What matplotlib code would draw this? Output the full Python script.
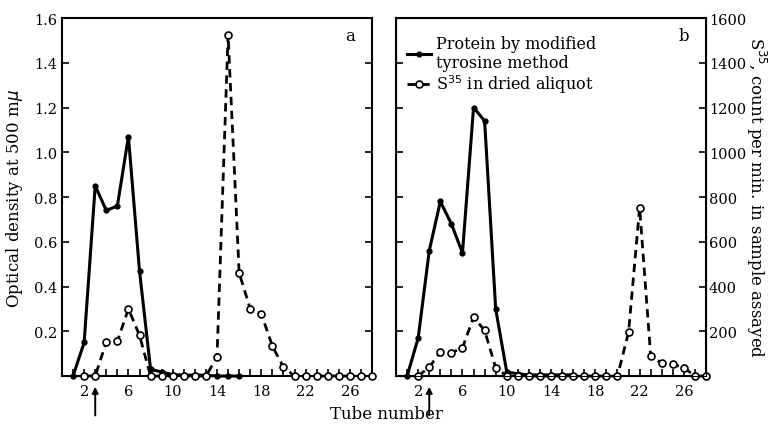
import matplotlib
matplotlib.use("Agg")
import matplotlib.pyplot as plt
import numpy as np

plt.rcParams['font.family'] = ['DejaVu Serif']

# panel a
tubes_prot_a = [1, 2, 3, 4, 5, 6, 7, 8, 9, 10, 11, 12, 13, 14, 15, 16]
prot_a = [0.0, 0.15, 0.85, 0.74, 0.76, 1.07, 0.47, 0.03, 0.018, 0.006, 0.004, 0.004, 0.004, 0.0, 0.0, 0.0]
tubes_s35_a = list(range(2, 29))
s35_a = [0, 0, 152, 155, 300, 182, 0, 0, 0, 0, 0, 0, 85, 1525, 461, 300, 278, 134,
         40, 0, 0, 0, 0, 0, 0, 0, 0]

# panel b
tubes_prot_b = list(range(1, 17))
prot_b = [0.0, 0.17, 0.56, 0.78, 0.68, 0.55, 1.20, 1.14, 0.30, 0.018, 0.01, 0.005,
          0.005, 0.005, 0.005, 0.005]
tubes_s35_b = list(range(2, 29))
s35_b = [0, 40, 107, 104, 126, 263, 204, 37, 0, 0, 0, 0, 0, 0, 0, 0, 0, 0, 0,
         196, 753, 88, 58, 52, 37, 0, 0]

xtick_labels = [2, 6, 10, 14, 18, 22, 26]
y_ticks = [0.2, 0.4, 0.6, 0.8, 1.0, 1.2, 1.4, 1.6]
count_ticks = [200, 400, 600, 800, 1000, 1200, 1400, 1600]
arrow_tube = 3

fig = plt.figure(figsize=(7.72, 4.27), dpi=100)
ax_a = fig.add_axes([0.0803, 0.117, 0.4016, 0.8385])
ax_b = fig.add_axes([0.513, 0.117, 0.4016, 0.8385])


def draw_panel(ax, tp, pv, ts, sv, letter):
    ax.plot(tp, pv, '-', color='black', lw=2.2, marker='o', ms=3.5,
            mfc='black', clip_on=False, zorder=3)
    ax.plot(ts, np.array(sv) / 1000.0, '--', color='black', lw=2.0,
            dashes=(3, 2), marker='o', ms=5, mfc='white', mec='black',
            mew=1.2, clip_on=False, zorder=4)
    ax.set_xlim(0, 28)
    ax.set_ylim(0, 1.6)
    ax.set_xticks(xtick_labels)
    ax.set_xticks(range(1, 28), minor=True)
    ax.set_yticks(y_ticks)
    ax.tick_params(axis='both', which='both', direction='in', length=5,
                   width=1.2, labelsize=10.5, top=False, right=True)
    ax.tick_params(axis='x', which='major', pad=6)
    for s in ax.spines.values():
        s.set_linewidth(1.5)
    ax.text(0.93, 0.95, letter, transform=ax.transAxes, fontsize=12,
            ha='center', va='center')
    ax.annotate('', xy=(arrow_tube, -0.03), xytext=(arrow_tube, -0.11),
                xycoords=('data', 'axes fraction'),
                textcoords=('data', 'axes fraction'),
                arrowprops=dict(arrowstyle='-|>', color='black', lw=1.4,
                                mutation_scale=9, shrinkA=0, shrinkB=0))


draw_panel(ax_a, tubes_prot_a, prot_a, tubes_s35_a, s35_a, 'a')
draw_panel(ax_b, tubes_prot_b, prot_b, tubes_s35_b, s35_b, 'b')

ax_a.set_yticklabels(['%.1f' % v for v in y_ticks])
ax_a.set_ylabel('Optical density at 500 m$\\mu$', fontsize=12, labelpad=6)

ax_b.set_yticklabels([])
ax_b2 = ax_b.twinx()
ax_b2.set_ylim(0, 1600)
ax_b2.set_yticks(count_ticks)
ax_b2.tick_params(axis='y', direction='in', length=5, width=1.2,
                  labelsize=10.5, pad=2)
ax_b2.set_ylabel('S$^{35}$, count per min. in sample assayed', fontsize=12,
                 rotation=270, labelpad=16)

handles = [ax_b.lines[0], ax_b.lines[1]]
ax_b.legend(handles, ['Protein by modified\ntyrosine method',
                      'S$^{35}$ in dried aliquot'],
            loc='upper left', frameon=False, fontsize=11.5,
            handlelength=1.5, handletextpad=0.3, labelspacing=0.1,
            borderaxespad=0.3, bbox_to_anchor=(0.0, 0.985))

fig.text(0.5, 0.03, 'Tube number', ha='center', va='center', fontsize=12)

fig.savefig('out.png', dpi=100)
